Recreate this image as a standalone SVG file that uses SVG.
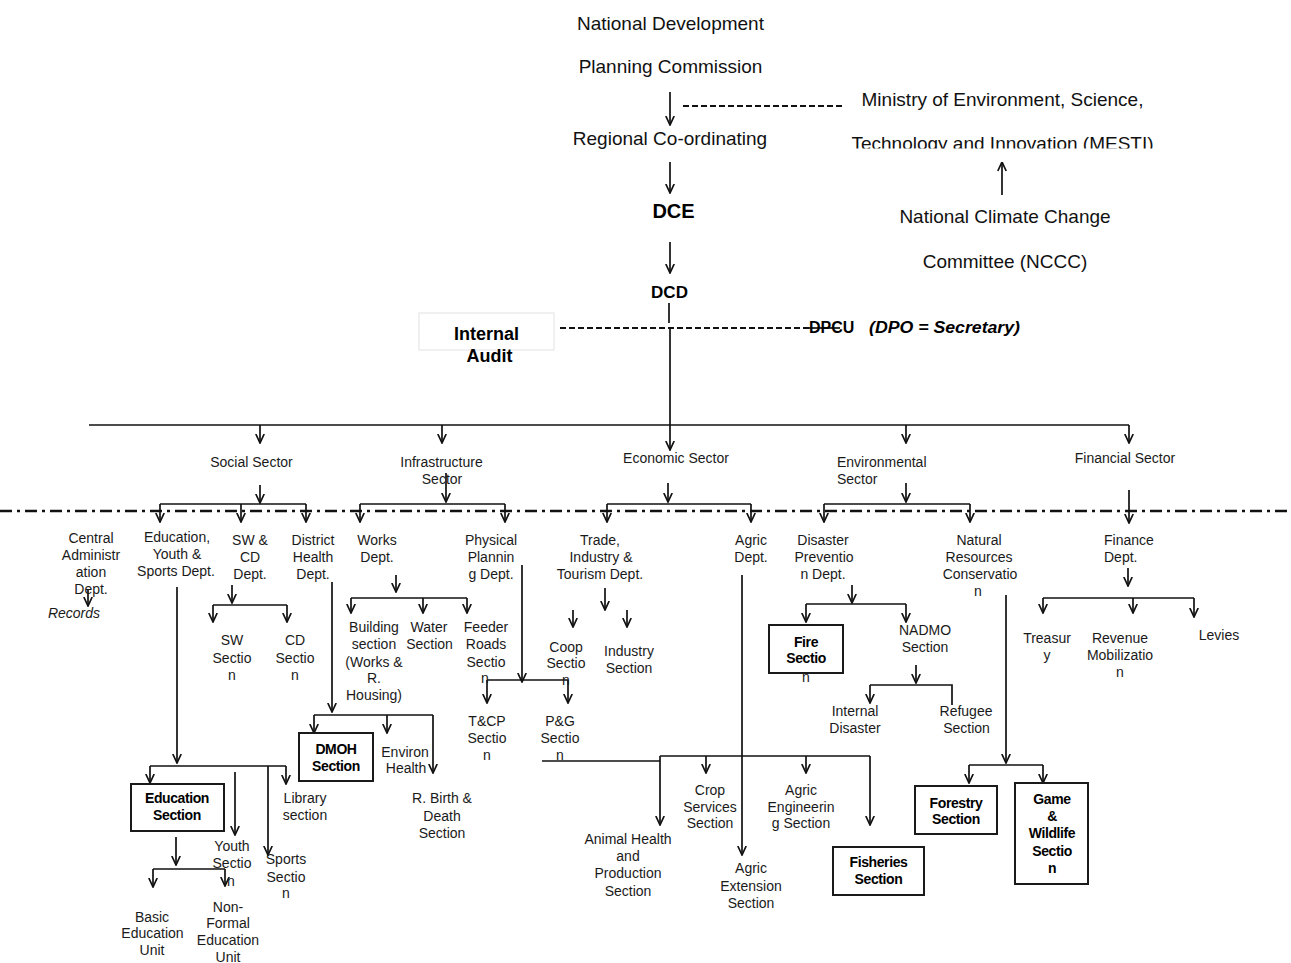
<svg xmlns="http://www.w3.org/2000/svg" width="1291" height="963" viewBox="0 0 1291 963">
<style>
.t{font-family:"Liberation Sans",Arial,sans-serif;font-size:14px;fill:#1a1a1a;text-anchor:middle}
.l{text-anchor:start}
.top{font-size:19px;fill:#111}
.b{font-weight:bold;fill:#000}
.bx{font-weight:bold;letter-spacing:-0.4px;fill:#000}
.box{fill:#fff;stroke:#1a1a1a;stroke-width:2}
.c{fill:none;stroke:#111;stroke-width:1.7}
.a{marker-end:url(#ah)}
.dash{stroke-dasharray:6 3;stroke-width:1.8}
.dd{stroke-width:2.6;stroke-dasharray:12 5 3 5}
</style>
<defs>
<marker id="ah" viewBox="0 0 10 10" refX="9.5" refY="5" markerWidth="10" markerHeight="10" markerUnits="userSpaceOnUse" orient="auto"><path d="M0.5,0.8 L9.5,5 L0.5,9.2" fill="none" stroke="#111" stroke-width="1.7"/></marker>
<clipPath id="clipM"><rect x="840" y="120" width="330" height="28.5"/></clipPath>
<clipPath id="clipF"><rect x="790" y="674" width="40" height="20"/></clipPath>
</defs>
<rect width="1291" height="963" fill="#fff"/>

<g id="connectors">
<path class="c a" d="M670,92 V125"/>
<path class="c dash" d="M683,106 H843"/>
<path class="c a" d="M670,162 V193"/>
<path class="c a" d="M1002,195 V162"/>
<path class="c a" d="M670,242 V273"/>
<path class="c" d="M669,303 V323"/>
<path class="c a" d="M670,327 V450"/>
<path class="c dash" d="M560,328 H809"/>
<path class="c" d="M809,328 H840"/>
<path class="c" d="M89,425 H1129"/>
<path class="c a" d="M260,425 V443"/>
<path class="c a" d="M442,425 V443"/>
<path class="c a" d="M906,425 V443"/>
<path class="c a" d="M1129,425 V443"/>
<path class="c dd" d="M0,511 H1291"/>
<path class="c a" d="M260,485 V503"/>
<path class="c" d="M160,504 H306"/>
<path class="c a" d="M160,504 V522"/>
<path class="c a" d="M241,504 V522"/>
<path class="c a" d="M306,504 V522"/>
<path class="c a" d="M446,473 V502"/>
<path class="c" d="M360,504 H505"/>
<path class="c a" d="M360,504 V522"/>
<path class="c a" d="M505,504 V522"/>
<path class="c a" d="M668,483 V502"/>
<path class="c" d="M607,504 H751"/>
<path class="c a" d="M607,504 V522"/>
<path class="c a" d="M751,504 V522"/>
<path class="c a" d="M906,483 V502"/>
<path class="c" d="M824,504 H970"/>
<path class="c a" d="M824,504 V522"/>
<path class="c a" d="M970,504 V522"/>
<path class="c a" d="M1129,490 V523"/>
<path class="c a" d="M88,590 V606"/>
<path class="c a" d="M177,587 V763"/>
<path class="c" d="M150,766 H286"/>
<path class="c a" d="M150,766 V783"/>
<path class="c a" d="M286,766 V784"/>
<path class="c a" d="M268,766 V855"/>
<path class="c a" d="M235,772 V835"/>
<path class="c a" d="M176,837 V865"/>
<path class="c" d="M153,869 H225"/>
<path class="c a" d="M153,869 V887"/>
<path class="c a" d="M225,869 V886"/>
<path class="c a" d="M232,585 V603"/>
<path class="c" d="M213,605 H287"/>
<path class="c a" d="M213,605 V622"/>
<path class="c a" d="M287,605 V622"/>
<path class="c a" d="M332,582 V712"/>
<path class="c" d="M314,715 H433"/>
<path class="c a" d="M314,715 V733"/>
<path class="c a" d="M387,715 V733"/>
<path class="c a" d="M433,715 V773"/>
<path class="c a" d="M396,575 V592"/>
<path class="c" d="M351,598 H467"/>
<path class="c a" d="M351,598 V613"/>
<path class="c a" d="M423,598 V613"/>
<path class="c a" d="M467,598 V613"/>
<path class="c a" d="M522,565 V682"/>
<path class="c" d="M487,680 H568"/>
<path class="c a" d="M487,680 V703"/>
<path class="c a" d="M568,680 V703"/>
<path class="c a" d="M605,588 V610"/>
<path class="c a" d="M573,610 V627"/>
<path class="c a" d="M627,610 V627"/>
<path class="c a" d="M742,575 V855"/>
<path class="c" d="M542,761 H660"/>
<path class="c" d="M660,756 H870"/>
<path class="c a" d="M660,756 V825"/>
<path class="c a" d="M706,756 V773"/>
<path class="c a" d="M806,756 V773"/>
<path class="c a" d="M870,756 V825"/>
<path class="c a" d="M852,585 V603"/>
<path class="c" d="M806,604 H906"/>
<path class="c a" d="M806,604 V622"/>
<path class="c a" d="M906,604 V622"/>
<path class="c a" d="M916,665 V683"/>
<path class="c" d="M870,685 H952 V705"/>
<path class="c a" d="M870,685 V703"/>
<path class="c a" d="M1006,595 V763"/>
<path class="c" d="M969,765 H1043"/>
<path class="c a" d="M969,765 V783"/>
<path class="c a" d="M1043,765 V783"/>
<path class="c a" d="M1128,568 V586"/>
<path class="c" d="M1043,598 H1194"/>
<path class="c a" d="M1043,598 V613"/>
<path class="c a" d="M1133,598 V613"/>
<path class="c a" d="M1194,598 V617"/>
</g>

<g id="ndpc"><text class="t top"><tspan x="670.5" y="30">National Development</tspan><tspan x="670.5" y="73">Planning Commission</tspan></text></g>
<g id="mesti"><text class="t top" x="1002.5" y="106">Ministry of Environment, Science,</text><text class="t top" x="1002.5" y="150" clip-path="url(#clipM)">Technology and Innovation (MESTI)</text></g>
<g id="regional"><text class="t top" x="670" y="145">Regional Co-ordinating</text></g>
<g id="nccc"><text class="t top"><tspan x="1005" y="223">National Climate Change</tspan><tspan x="1005" y="268">Committee (NCCC)</tspan></text></g>
<g id="dce"><text class="t b" x="673.5" y="218" style="font-size:20px">DCE</text></g>
<g id="dcd"><text class="t b" x="669.5" y="298" style="font-size:17px">DCD</text></g>
<g id="audit"><rect x="419" y="313" width="135" height="37" fill="#fff" stroke="#e2e2e2" stroke-width="1"/><text class="t b" style="font-size:18px"><tspan x="486.5" y="340">Internal</tspan><tspan x="489.5" y="362">Audit</tspan></text></g>
<g id="dpcu"><text class="t b l" x="809" y="333" style="font-size:16px">DPCU</text><text class="t b l" x="869" y="333" style="font-size:16px;font-style:italic" textLength="151" lengthAdjust="spacingAndGlyphs">(DPO = Secretary)</text></g>

<g id="social"><text class="t" x="251.5" y="467">Social Sector</text></g>
<g id="infra"><text class="t"><tspan x="441.5" y="467">Infrastructure</tspan><tspan x="442" y="484">Sector</tspan></text></g>
<g id="economic"><text class="t" x="676" y="463">Economic Sector</text></g>
<g id="environmental"><text class="t l"><tspan x="837" y="467">Environmental</tspan><tspan x="837" y="484">Sector</tspan></text></g>
<g id="financial"><text class="t" x="1125" y="463">Financial Sector</text></g>

<g id="central"><text class="t"><tspan x="91" y="543">Central</tspan><tspan x="91" y="560">Administr</tspan><tspan x="91" y="577">ation</tspan><tspan x="91" y="594">Dept.</tspan></text><text class="t" x="74" y="618" style="font-style:italic">Records</text></g>
<g id="edu-dept"><text class="t"><tspan x="177" y="542">Education,</tspan><tspan x="177" y="559">Youth &amp;</tspan><tspan x="176" y="576">Sports Dept.</tspan></text></g>
<g id="swcd"><text class="t"><tspan x="250" y="545">SW &amp;</tspan><tspan x="250" y="562">CD</tspan><tspan x="250" y="579">Dept.</tspan></text></g>
<g id="health"><text class="t"><tspan x="313" y="545">District</tspan><tspan x="313" y="562">Health</tspan><tspan x="313" y="579">Dept.</tspan></text></g>
<g id="works"><text class="t"><tspan x="377" y="545">Works</tspan><tspan x="377" y="562">Dept.</tspan></text></g>
<g id="physical"><text class="t"><tspan x="491" y="545">Physical</tspan><tspan x="491" y="562">Plannin</tspan><tspan x="491" y="579">g Dept.</tspan></text></g>
<g id="trade"><text class="t"><tspan x="600" y="545">Trade,</tspan><tspan x="601" y="562">Industry  &amp;</tspan><tspan x="600" y="579">Tourism Dept.</tspan></text></g>
<g id="agric"><text class="t"><tspan x="751" y="545">Agric</tspan><tspan x="751" y="562">Dept.</tspan></text></g>
<g id="disaster"><text class="t"><tspan x="823" y="545">Disaster</tspan><tspan x="824" y="562">Preventio</tspan><tspan x="823" y="579">n Dept.</tspan></text></g>
<g id="natural"><text class="t"><tspan x="979" y="545">Natural</tspan><tspan x="979" y="562">Resources</tspan><tspan x="980" y="579">Conservatio</tspan><tspan x="978" y="596">n</tspan></text></g>
<g id="finance"><text class="t l"><tspan x="1104" y="545">Finance</tspan><tspan x="1104" y="562">Dept.</tspan></text></g>

<g id="sw"><text class="t"><tspan x="232" y="645">SW</tspan><tspan x="232" y="663">Sectio</tspan><tspan x="232" y="680">n</tspan></text></g>
<g id="cd"><text class="t"><tspan x="295" y="645">CD</tspan><tspan x="295" y="663">Sectio</tspan><tspan x="295" y="680">n</tspan></text></g>
<g id="building"><text class="t"><tspan x="374" y="632">Building</tspan><tspan x="374" y="649">section</tspan><tspan x="374" y="667">(Works &amp;</tspan><tspan x="374" y="683">R.</tspan><tspan x="374" y="700">Housing)</tspan></text></g>
<g id="water"><text class="t"><tspan x="429" y="632">Water</tspan><tspan x="429.5" y="649">Section</tspan></text></g>
<g id="feeder"><text class="t"><tspan x="486" y="632">Feeder</tspan><tspan x="486" y="649">Roads</tspan><tspan x="486" y="667">Sectio</tspan><tspan x="485" y="683">n</tspan></text></g>
<g id="coop"><text class="t"><tspan x="566" y="652">Coop</tspan><tspan x="566" y="668">Sectio</tspan><tspan x="566" y="685">n</tspan></text></g>
<g id="industry"><text class="t"><tspan x="629" y="656">Industry</tspan><tspan x="629" y="673">Section</tspan></text></g>
<g id="fire"><rect class="box" x="769" y="625" width="74" height="48"/><text class="t bx"><tspan x="806" y="647">Fire</tspan><tspan x="806" y="663">Sectio</tspan></text><text class="t" x="806" y="682" clip-path="url(#clipF)">n</text></g>
<g id="nadmo"><text class="t"><tspan x="925" y="635">NADMO</tspan><tspan x="925" y="652">Section</tspan></text></g>
<g id="internal-disaster"><text class="t"><tspan x="855" y="716">Internal</tspan><tspan x="855" y="733">Disaster</tspan></text></g>
<g id="refugee"><text class="t"><tspan x="966" y="716">Refugee</tspan><tspan x="966.5" y="733">Section</tspan></text></g>
<g id="treasury"><text class="t"><tspan x="1047" y="643">Treasur</tspan><tspan x="1047" y="660">y</tspan></text></g>
<g id="revenue"><text class="t"><tspan x="1120" y="643">Revenue</tspan><tspan x="1120" y="660">Mobilizatio</tspan><tspan x="1120" y="677">n</tspan></text></g>
<g id="levies"><text class="t" x="1219" y="640">Levies</text></g>

<g id="dmoh"><rect class="box" x="299" y="733" width="74" height="48"/><text class="t bx"><tspan x="336" y="754">DMOH</tspan><tspan x="336" y="771">Section</tspan></text></g>
<g id="environ"><text class="t"><tspan x="405" y="757">Environ</tspan><tspan x="406" y="773">Health</tspan></text></g>
<g id="birth"><text class="t"><tspan x="442" y="803">R. Birth &amp;</tspan><tspan x="442" y="821">Death</tspan><tspan x="442" y="838">Section</tspan></text></g>
<g id="tcp"><text class="t"><tspan x="487" y="726">T&amp;CP</tspan><tspan x="487" y="743">Sectio</tspan><tspan x="487" y="760">n</tspan></text></g>
<g id="pg"><text class="t"><tspan x="560" y="726">P&amp;G</tspan><tspan x="560" y="743">Sectio</tspan><tspan x="560" y="760">n</tspan></text></g>
<g id="edu-section"><rect class="box" x="131" y="784" width="93" height="47"/><text class="t bx"><tspan x="177" y="803">Education</tspan><tspan x="177" y="820">Section</tspan></text></g>
<g id="library"><text class="t"><tspan x="305" y="803">Library</tspan><tspan x="305" y="820">section</tspan></text></g>
<g id="youth"><text class="t"><tspan x="232" y="851">Youth</tspan><tspan x="232" y="868">Sectio</tspan><tspan x="231" y="886">n</tspan></text></g>
<g id="sports"><text class="t"><tspan x="286" y="864">Sports</tspan><tspan x="286" y="882">Sectio</tspan><tspan x="286" y="898">n</tspan></text></g>
<g id="basic"><text class="t"><tspan x="152" y="922">Basic</tspan><tspan x="152.5" y="938">Education</tspan><tspan x="152" y="955">Unit</tspan></text></g>
<g id="nonformal"><text class="t"><tspan x="228" y="912">Non-</tspan><tspan x="228" y="928">Formal</tspan><tspan x="228" y="945">Education</tspan><tspan x="228" y="962">Unit</tspan></text></g>
<g id="crop"><text class="t"><tspan x="710" y="795">Crop</tspan><tspan x="710" y="812">Services</tspan><tspan x="710" y="828">Section</tspan></text></g>
<g id="agric-eng"><text class="t"><tspan x="801" y="795">Agric</tspan><tspan x="801" y="812">Engineerin</tspan><tspan x="801" y="828">g Section</tspan></text></g>
<g id="animal"><text class="t"><tspan x="628" y="844">Animal Health</tspan><tspan x="628" y="861">and</tspan><tspan x="628" y="878">Production</tspan><tspan x="628" y="896">Section</tspan></text></g>
<g id="agric-ext"><text class="t"><tspan x="751" y="873">Agric</tspan><tspan x="751" y="891">Extension</tspan><tspan x="751" y="908">Section</tspan></text></g>
<g id="fisheries"><rect class="box" x="833" y="847" width="91" height="48"/><text class="t bx"><tspan x="878.5" y="867">Fisheries</tspan><tspan x="878.5" y="884">Section</tspan></text></g>
<g id="forestry"><rect class="box" x="915" y="786" width="82" height="48"/><text class="t bx"><tspan x="956" y="808">Forestry</tspan><tspan x="956" y="824">Section</tspan></text></g>
<g id="game"><rect class="box" x="1015" y="783" width="73" height="101"/><text class="t bx"><tspan x="1052" y="804">Game</tspan><tspan x="1052" y="821">&amp;</tspan><tspan x="1052" y="838">Wildlife</tspan><tspan x="1052" y="856">Sectio</tspan><tspan x="1052" y="873">n</tspan></text></g>
</svg>
